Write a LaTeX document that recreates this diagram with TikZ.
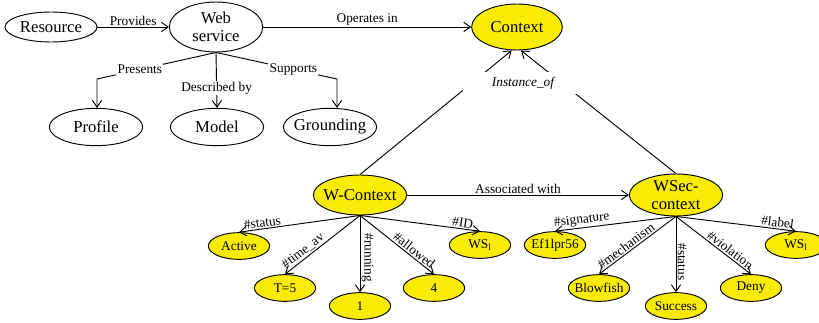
\documentclass[tikz,border=0pt]{standalone}
\usepackage{fontspec}
\setmainfont{Liberation Serif}
\usetikzlibrary{positioning}
\usetikzlibrary{arrows.meta}
\usetikzlibrary{shapes.geometric}
\tikzset{>={Straight Barb[length=5pt,width=7pt]}}
\colorlet{ctxyellow}{yellow!97!black}
\tikzstyle{concept}=[draw,ellipse,line width=0.7pt,inner xsep=-4pt,inner ysep=-2pt,align=center,
                     fill=#1,font=\fontsize{12.5}{13.5}\selectfont,minimum width=70pt,minimum height=28pt]
\tikzstyle{value}=[concept=ctxyellow,font=\fontsize{10}{12}\selectfont,minimum width=46pt,minimum height=20pt]
\tikzstyle{rel}=[font=\fontsize{10}{12}\selectfont,inner sep=1pt]
\tikzstyle{attr}=[rel,sloped,above]
\tikzstyle{myarrow}=[->,line width=0.7pt]

\begin{document}
\begin{tikzpicture}[x=0.75pt,y=0.75pt]
  \useasboundingbox (0,0) rectangle (819,-322);

  % web service part
  \node[concept=white,minimum width=69pt,minimum height=22.5pt] (res) at (51,-27) {Resource};
  \node[concept=white,minimum height=37.5pt] (ws) at (216,-27) {Web\\service};
  \node[concept=ctxyellow,minimum width=68pt,minimum height=34.5pt] (ctx) at (517,-27) {Context};
  \draw[myarrow] (res) -- node[rel,above,pos=0.5]{Provides} (ws);
  \draw[myarrow] (ws) -- node[rel,above]{Operates in} (ctx);

  \node[concept=white] (prof) at (96,-127) {Profile};
  \node[concept=white] (model) at (217,-127) {Model};
  \node[concept=white] (grd) at (330,-127) {Grounding};
  \coordinate (pbend) at (97,-79);
  \coordinate (gbend) at (337,-79);
  \draw[myarrow] (ws.south) -- node[rel,fill=white,pos=0.64]{Presents} (pbend) -- (pbend |- prof.north);
  \draw[myarrow] (ws.south) -- node[rel,fill=white,pos=0.64]{Described by} (model.north);
  \draw[myarrow] (ws.south) -- node[rel,fill=white,pos=0.64]{Supports} (gbend) -- (gbend |- grd.north);

  % contexts
  \node[concept=ctxyellow,minimum height=30pt] (wctx) at (360,-195) {W-Context};
  \node[concept=ctxyellow,minimum height=31.5pt] (wsec) at (676,-195) {WSec-\\context};
  \draw[myarrow] (wctx) -- node[rel,above]{Associated with} (wsec);
  \draw[myarrow] (wctx.north) -- ([xshift=-4pt]ctx.south);
  \draw[myarrow] (wsec.north) -- ([xshift=3pt]ctx.south);
  \node[rel,fill=white,font=\fontsize{10}{12}\selectfont\itshape,minimum width=90pt,minimum height=17pt]
    (inst) at (523,-83) {Instance\_of};

  % W-Context values
  \path (wctx)++(-121,-51) node[value] (active) {Active};
  \path (wctx)++(-75,-93) node[value] (tfive) {T=5};
  \path (wctx)++(0,-111) node[value] (one) {1};
  \path (wctx)++(74,-93) node[value] (four) {4};
  \path (wctx)++(120,-50) node[value] (wsa) {WS\textsubscript{l}};
  \draw[myarrow] (wctx.south) -- node[attr,pos=0.8]{\#status} (active.north);
  \draw[myarrow] (wctx.south) -- node[attr,pos=0.7]{\#time\_av} (tfive.north);
  \draw[myarrow] (wctx.south) -- node[attr,pos=0.55]{\#running} (one.north);
  \draw[myarrow] (wctx.south) -- node[attr,pos=0.68]{\#allowed} (four.north);
  \draw[myarrow] (wctx.south) -- node[attr,pos=0.85]{\#ID} (wsa.north);

  % WSec-context values
  \path (wsec)++(-121,-50) node[value] (sig) {Ef1lpr56};
  \path (wsec)++(-77,-93) node[value] (blow) {Blowfish};
  \path (wsec)++(0,-111) node[value] (succ) {Success};
  \path (wsec)++(75,-93) node[value] (deny) {Deny};
  \path (wsec)++(120,-50) node[value] (wsb) {WS\textsubscript{l}};
  \draw[myarrow] (wsec.south) -- node[attr,pos=0.77]{\#signature} (sig.north);
  \draw[myarrow] (wsec.south) -- node[attr,pos=0.6]{\#mechanism} (blow.north);
  \draw[myarrow] (wsec.south) -- node[attr,pos=0.6]{\#status} (succ.north);
  \draw[myarrow] (wsec.south) -- node[attr,pos=0.67]{\#violation} (deny.north);
  \draw[myarrow] (wsec.south) -- node[attr,pos=0.84]{\#label} (wsb.north);
\end{tikzpicture}
\end{document}
